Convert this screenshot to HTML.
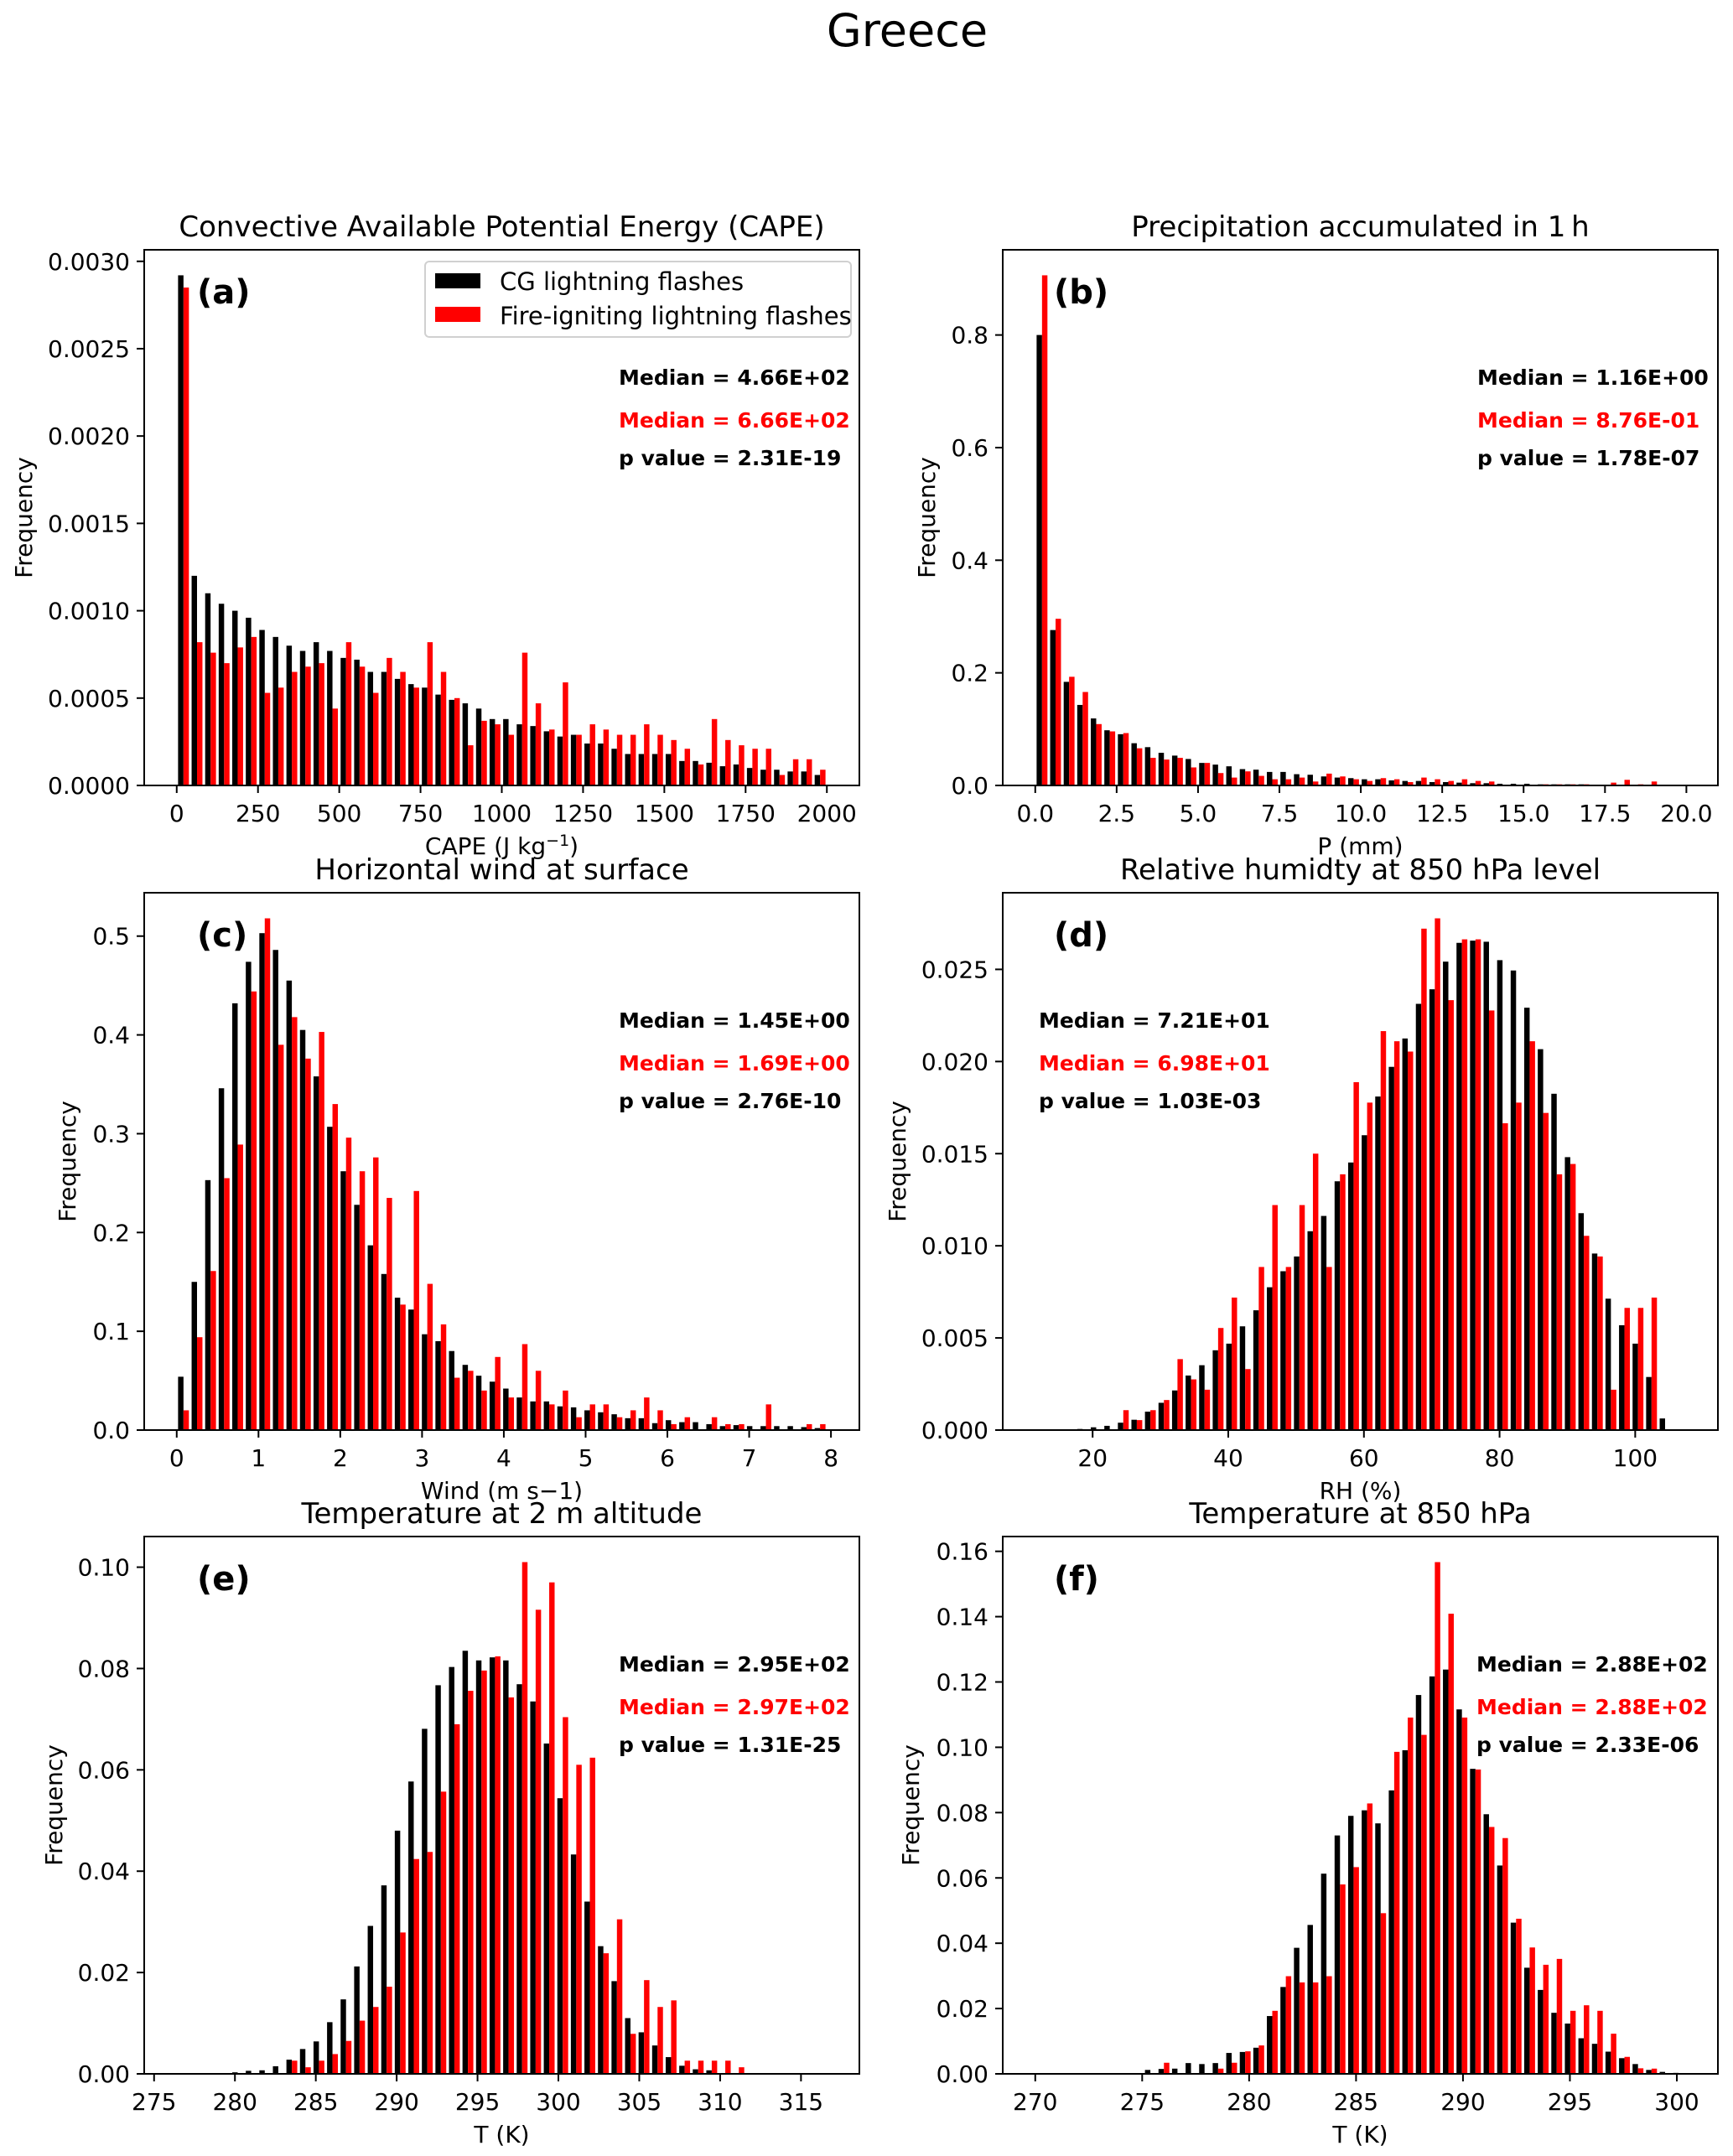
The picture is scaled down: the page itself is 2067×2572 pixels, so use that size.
<!DOCTYPE html>
<html><head><meta charset="utf-8">
<style>
html,body{margin:0;padding:0;background:#fff;}
svg{display:block;font-family:"DejaVu Sans","Liberation Sans",sans-serif;}
</style></head>
<body>
<svg id="fig" width="2067" height="2572" viewBox="0 0 2067 2572" xmlns="http://www.w3.org/2000/svg">
<rect width="2067" height="2572" fill="#fff"/>
<text x="1082" y="55" font-size="54" text-anchor="middle">Greece</text>
</svg>
<script>
// ---- data: panel (a) CAPE ----
const capeBins = [0, 2000];
const capeBlack = [0.00292,0.00120,0.00110,0.00104,0.00100,0.00096,0.00089,0.00085,0.00080,0.00077,0.00082,0.00077,0.00073,0.00072,0.00065,0.00065,0.00061,0.00058,0.00056,0.00052,0.00049,0.00047,0.00044,0.00038,0.00038,0.00035,0.00034,0.00031,0.00028,0.00029,0.00024,0.00024,0.00021,0.00018,0.00018,0.00018,0.00018,0.00014,0.00014,0.00013,0.00011,0.00012,0.00010,0.00009,0.00009,0.00008,0.00008,0.00006];
const capeRed = [0.00285,0.00082,0.00076,0.00070,0.00079,0.00085,0.00053,0.00056,0.00065,0.00068,0.00070,0.00044,0.00082,0.00068,0.00053,0.00073,0.00065,0.00056,0.00082,0.00065,0.00050,0.00023,0.00037,0.00035,0.00029,0.00076,0.00047,0.00032,0.00059,0.00029,0.00035,0.00032,0.00029,0.00029,0.00035,0.00029,0.00026,0.00021,0.00012,0.00038,0.00026,0.00023,0.00021,0.00021,0.00006,0.00015,0.00015,0.00009];
const capeXTicks = [0,250,500,750,1000,1250,1500,1750,2000];
const capeYTicks = [0,0.0005,0.0010,0.0015,0.0020,0.0025,0.0030];
// ---- data: panel (b) precipitation ----
const precBins = [0, 19.97];
const precBlack = [0.80,0.276,0.184,0.143,0.119,0.098,0.091,0.075,0.068,0.058,0.053,0.047,0.040,0.037,0.034,0.029,0.028,0.024,0.024,0.020,0.019,0.016,0.014,0.013,0.011,0.011,0.009,0.008,0.008,0.006,0.006,0.005,0.004,0.004,0.003,0.003,0.003,0.002,0.002,0.002,0.002,0.001,0.001,0.001,0.001,0.001,0.001,0.001];
const precRed = [0.906,0.296,0.193,0.166,0.109,0.096,0.093,0.066,0.049,0.046,0.049,0.032,0.040,0.022,0.014,0.025,0.017,0.011,0.011,0.014,0.007,0.021,0.016,0.011,0.008,0.013,0.011,0.006,0.014,0.011,0.008,0.011,0.008,0.007,0.001,0.001,0.001,0.002,0.002,0.002,0.002,0.001,0.005,0.010,0.002,0.007,0.001,0.0];
const precXTicks = [0,2.5,5,7.5,10,12.5,15,17.5,20];
const precYTicks = [0,0.2,0.4,0.6,0.8];
// ---- data: panel (c) wind ----
const windBins = [0, 7.95];
const windBlack = [0.054,0.150,0.253,0.346,0.432,0.474,0.503,0.486,0.455,0.405,0.358,0.307,0.262,0.228,0.187,0.158,0.134,0.122,0.097,0.090,0.080,0.066,0.055,0.049,0.042,0.033,0.029,0.029,0.024,0.023,0.020,0.018,0.016,0.012,0.012,0.007,0.010,0.008,0.008,0.006,0.004,0.005,0.004,0.004,0.004,0.004,0.003,0.002];
const windRed = [0.020,0.094,0.161,0.255,0.289,0.444,0.518,0.390,0.418,0.376,0.403,0.330,0.296,0.262,0.276,0.235,0.127,0.242,0.148,0.107,0.053,0.060,0.040,0.074,0.033,0.087,0.060,0.026,0.040,0.013,0.026,0.026,0.013,0.020,0.033,0.020,0.006,0.013,0,0.013,0.006,0.006,0,0.026,0,0,0.006,0.006];
const windXTicks = [0,1,2,3,4,5,6,7,8];
const windYTicks = [0,0.1,0.2,0.3,0.4,0.5];
// ---- data: panel (d) RH ----
const rhBins = [11.54, 107.4];
const rhBlack = [0.00002,0.00002,0.00004,0.00006,0.00015,0.00023,0.0004,0.00056,0.001,0.00148,0.00215,0.00296,0.00352,0.00433,0.00469,0.00563,0.0065,0.00775,0.00862,0.00942,0.01079,0.01162,0.0135,0.01452,0.016,0.0181,0.01971,0.02125,0.02313,0.02392,0.02542,0.02644,0.02656,0.0265,0.0255,0.02494,0.02292,0.02067,0.01825,0.01481,0.01177,0.00958,0.00713,0.00569,0.00469,0.00288,0.00063,0.00004];
const rhRed = [0,0,0,0,0,0,0.00108,0.00054,0.00108,0.00163,0.00385,0.00275,0.00219,0.00554,0.00719,0.00331,0.00885,0.01221,0.00885,0.01221,0.0150,0.00885,0.01388,0.01888,0.01777,0.02165,0.0211,0.02054,0.02721,0.02777,0.02333,0.02663,0.02663,0.02277,0.01665,0.01777,0.0211,0.01721,0.01388,0.01444,0.01054,0.00942,0.00219,0.00663,0.00663,0.00719,0,0];
const rhXTicks = [20,40,60,80,100];
const rhYTicks = [0,0.005,0.010,0.015,0.020,0.025];
// ---- data: panel (e) T2m ----
const t2Bins = [276.4, 316.6];
const t2Black = [0,0,0,0,0.0003,0.0006,0.0007,0.0015,0.0028,0.0049,0.0064,0.0102,0.0147,0.0212,0.0292,0.0372,0.048,0.0577,0.0681,0.0767,0.0803,0.0835,0.0816,0.0822,0.0816,0.0769,0.0735,0.0652,0.0544,0.0433,0.034,0.0252,0.0183,0.011,0.0082,0.0056,0.0033,0.0016,0.0009,0.0007,0.0001,0.0001,0,0,0,0,0,0.0001];
const t2Red = [0,0,0,0,0,0,0,0,0.0026,0.0013,0.0026,0.0039,0.0065,0.0105,0.0132,0.0172,0.0279,0.0424,0.0438,0.0557,0.069,0.0756,0.0796,0.0824,0.0743,0.101,0.0916,0.097,0.0704,0.061,0.0624,0.0238,0.0305,0.0079,0.0185,0.0132,0.0145,0.0026,0.0026,0.0026,0.0026,0.0013,0,0,0,0,0,0];
const t2XTicks = [275,280,285,290,295,300,305,310,315];
const t2YTicks = [0,0.02,0.04,0.06,0.08,0.10];
// ---- data: panel (f) T850 ----
const t850Bins = [270, 300.4];
const t850Black = [0,0,0,0,0,0,0,0.0002,0.0012,0.0015,0.0016,0.0033,0.003,0.0033,0.0064,0.0067,0.008,0.0177,0.0266,0.0386,0.0456,0.0613,0.073,0.079,0.0807,0.0767,0.0868,0.0991,0.116,0.1217,0.1238,0.1116,0.0934,0.0795,0.0638,0.0463,0.0325,0.0257,0.0187,0.0154,0.0109,0.0092,0.0068,0.0048,0.003,0.0012,0.0006,0.0003];
const t850Red = [0,0,0,0,0,0,0,0,0,0.0034,0,0,0,0.0016,0.0034,0.0069,0.0087,0.0193,0.0299,0.028,0.028,0.0299,0.058,0.0633,0.0828,0.0492,0.0986,0.1091,0.1038,0.1567,0.1409,0.1091,0.0932,0.0756,0.0722,0.0475,0.0387,0.0334,0.0352,0.0193,0.021,0.0193,0.0123,0.0052,0.0017,0.0016,0,0];
const t850XTicks = [270,275,280,285,290,295,300];
const t850YTicks = [0,0.02,0.04,0.06,0.08,0.10,0.12,0.14,0.16];

const NS = "http://www.w3.org/2000/svg";
const svg = document.getElementById('fig');
function mk(tag, attrs, parent) {
  const e = document.createElementNS(NS, tag);
  for (const k in attrs) e.setAttribute(k, attrs[k]);
  (parent || svg).appendChild(e);
  return e;
}

const panels = [
  {id:'a', title:'Convective Available Potential Energy (CAPE)', xlabel:'CAPE (J kg<tspan dy="-10" font-size="19">−1</tspan><tspan dy="10">)</tspan>', bins:capeBins, black:capeBlack, red:capeRed, xt:capeXTicks, yt:capeYTicks, xdec:0, ydec:4,
   box:[172,298,1025,937], ylabx:30, ann:['Median = 4.66E+02','Median = 6.66E+02','p value = 2.31E-19'], annx:738, legend:true},
  {id:'b', title:'Precipitation accumulated in 1\u2009h', xlabel:'P (mm)', bins:precBins, black:precBlack, red:precRed, xt:precXTicks, yt:precYTicks, xdec:1, ydec:1,
   box:[1196,298,2049,937], ylabx:1107, ann:['Median = 1.16E+00','Median = 8.76E-01','p value = 1.78E-07'], annx:1762},
  {id:'c', title:'Horizontal wind at surface', xlabel:'Wind (m s−1)', bins:windBins, black:windBlack, red:windRed, xt:windXTicks, yt:windYTicks, xdec:0, ydec:1,
   box:[172,1065,1025,1706], ylabx:82, ann:['Median = 1.45E+00','Median = 1.69E+00','p value = 2.76E-10'], annx:738},
  {id:'d', title:'Relative humidty at 850 hPa level', xlabel:'RH (%)', bins:rhBins, black:rhBlack, red:rhRed, xt:rhXTicks, yt:rhYTicks, xdec:0, ydec:3,
   box:[1196,1065,2049,1706], ylabx:1072, ann:['Median = 7.21E+01','Median = 6.98E+01','p value = 1.03E-03'], annx:1239},
  {id:'e', title:'Temperature at 2 m altitude', xlabel:'T (K)', bins:t2Bins, black:t2Black, red:t2Red, xt:t2XTicks, yt:t2YTicks, xdec:0, ydec:2,
   box:[172,1833,1025,2474], ylabx:66, ann:['Median = 2.95E+02','Median = 2.97E+02','p value = 1.31E-25'], annx:738},
  {id:'f', title:'Temperature at 850 hPa', xlabel:'T (K)', bins:t850Bins, black:t850Black, red:t850Red, xt:t850XTicks, yt:t850YTicks, xdec:0, ydec:2,
   box:[1196,1833,2049,2474], ylabx:1088, ann:['Median = 2.88E+02','Median = 2.88E+02','p value = 2.33E-06'], annx:1761}
];

panels.forEach(p => {
  const [L,T,R,B] = p.box;
  const g = mk('g', {});
  
  
  const n = p.black.length;
  const lo = p.bins[0], hi = p.bins[1];
  const span = hi - lo;
  const xmin = lo - 0.05*span, xmax = hi + 0.05*span;
  const ymax = Math.max(...p.black, ...p.red) * 1.05;
  const X = v => L + (v - xmin) / (xmax - xmin) * (R - L);
  const Y = v => B - v / ymax * (B - T);
  const w = span / n;
  for (let i = 0; i < n; i++) {
    const left = lo + i*w;
    const xb = X(left + 0.1*w), xr = X(left + 0.5*w), bw = X(left + 0.5*w) - X(left + 0.1*w);
    const rb = mk('rect', {x:xb, y:Y(p.black[i]), width:bw, height:B - Y(p.black[i]), fill:'#000'}, g);
    
    
    const rr = mk('rect', {x:xr, y:Y(p.red[i]), width:bw, height:B - Y(p.red[i]), fill:'#ff0000'}, g);
    
    
  }
  const fr = mk('rect', {x:L, y:T, width:R-L, height:B-T, fill:'none', stroke:'#000', 'stroke-width':2}, g);
  
  
  p.xt.forEach(v => {
    const x = X(v);
    mk('line', {x1:x, y1:B, x2:x, y2:B+9, stroke:'#000', 'stroke-width':2}, g);
    const t = mk('text', {x:x, y:B+43, 'font-size':28, 'text-anchor':'middle'}, g);
    
    
    t.textContent = v.toFixed(p.xdec);
  });
  p.yt.forEach(v => {
    const y = Y(v);
    mk('line', {x1:L-9, y1:y, x2:L, y2:y, stroke:'#000', 'stroke-width':2}, g);
    const t = mk('text', {x:L-17, y:y+10, 'font-size':28, 'text-anchor':'end'}, g);
    
    
    t.textContent = v.toFixed(p.ydec);
  });
  const tt = mk('text', {x:(L+R)/2, y:T-16, 'font-size':34, 'text-anchor':'middle'}, g);
  
  
  tt.textContent = p.title;
  const xl = mk('text', {x:(L+R)/2, y:B+82, 'font-size':28, 'text-anchor':'middle'}, g);
  
  
  xl.innerHTML = p.xlabel;
  const cy = (T+B)/2;
  const yl = mk('text', {x:p.ylabx, y:cy, 'font-size':28, 'text-anchor':'middle', transform:'rotate(-90 '+p.ylabx+' '+cy+')', 'dominant-baseline':'middle'}, g);
  
  
  yl.textContent = 'Frequency';
  const pl = mk('text', {x:L+(p.id==='a'||p.id==='c'||p.id==='e'?63:61), y:T+64, 'font-size':40, 'font-weight':'bold'}, g);
  
  
  pl.textContent = '(' + p.id + ')';
  const cols = ['#000','#ff0000','#000'];
  const offs = [161, 212, 257];
  p.ann.forEach((s, k) => {
    const a = mk('text', {x:p.annx, y:T+offs[k], 'font-size':25, 'font-weight':'bold', fill:cols[k]}, g);
    
    
    a.textContent = s;
  });
  if (p.legend) {
    const lg = mk('g', {}, g);
    
    
    mk('rect', {x:507, y:312, width:508, height:90, rx:5, fill:'#fff', 'fill-opacity':0.8, stroke:'#d0d0d0', 'stroke-width':2}, lg);
    const e1 = mk('rect', {x:519, y:326, width:54, height:18, fill:'#000'}, lg);
    
    
    const t1 = mk('text', {x:596, y:346, 'font-size':29}, lg);
    
    
    t1.textContent = 'CG lightning flashes';
    const e2 = mk('rect', {x:519, y:366, width:54, height:18, fill:'#ff0000'}, lg);
    
    
    const t2 = mk('text', {x:596, y:387, 'font-size':29}, lg);
    
    
    t2.textContent = 'Fire-igniting lightning flashes';
  }
});
</script>
</body></html>
